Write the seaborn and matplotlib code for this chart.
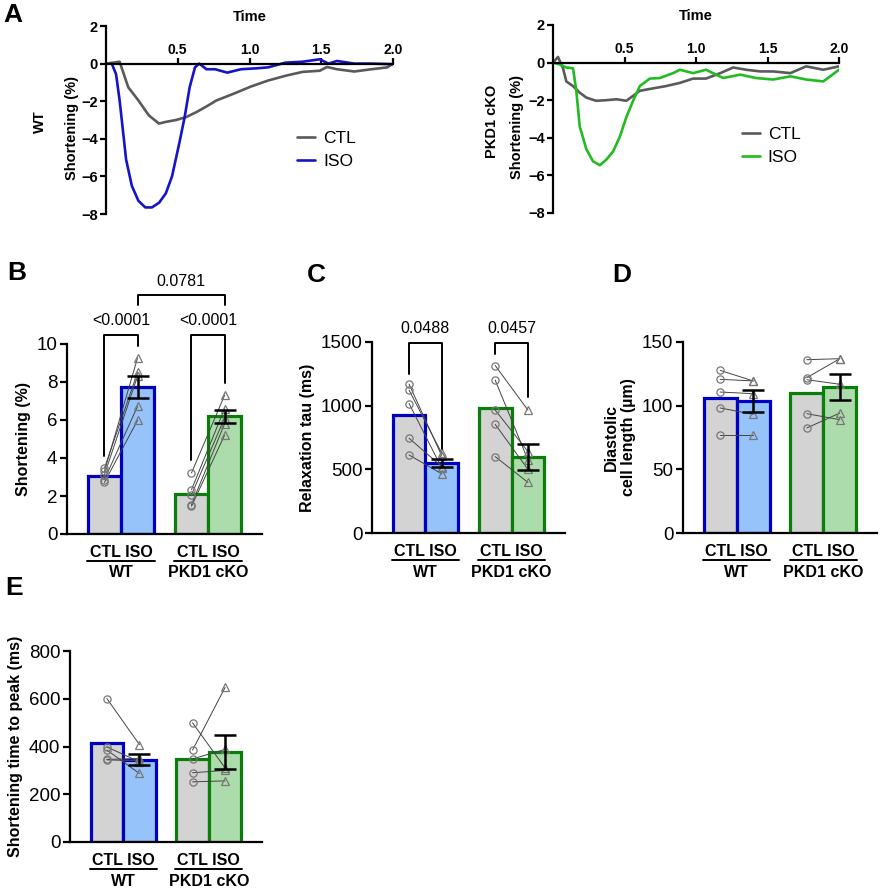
import numpy as np
import pandas as pd
import matplotlib
matplotlib.use("Agg")
import matplotlib.pyplot as plt
import seaborn as sns

# ----------------------
# DATA
# ----------------------
# Panel A - WT traces
wt_ctl_t = [0, 0.05, 0.095, 0.155, 0.226, 0.298, 0.369, 0.417, 0.488, 0.56, 0.63,
            0.70, 0.77, 0.89, 1.01, 1.13, 1.25, 1.37, 1.49, 1.54, 1.61, 1.73, 1.85, 1.96, 2.0]
wt_ctl_y = [0, 0.05, 0.1, -1.26, -1.96, -2.75, -3.19, -3.1, -3.0, -2.84, -2.58,
            -2.28, -1.96, -1.6, -1.22, -0.9, -0.65, -0.44, -0.38, -0.18, -0.3, -0.42, -0.3, -0.2, 0.0]
wt_iso_t = [0.04, 0.07, 0.095, 0.12, 0.14, 0.18, 0.226, 0.274, 0.32, 0.37, 0.417, 0.46,
            0.51, 0.548, 0.583, 0.62, 0.65, 0.70, 0.76, 0.845, 0.94, 1.05, 1.13, 1.25, 1.37,
            1.49, 1.55, 1.61, 1.73, 1.85, 2.0]
wt_iso_y = [0, -0.56, -1.96, -3.7, -5.1, -6.5, -7.3, -7.65, -7.65, -7.4, -6.9, -6.0,
            -4.26, -2.85, -1.26, -0.2, 0.0, -0.3, -0.3, -0.48, -0.3, -0.25, -0.2, 0.05, 0.1,
            0.23, 0.0, 0.14, 0.0, 0.0, -0.03]

# Panel A - PKD1 cKO traces
ko_ctl_t = [0, 0.035, 0.07, 0.093, 0.14, 0.187, 0.233, 0.30, 0.373, 0.443, 0.513, 0.56,
            0.607, 0.70, 0.79, 0.887, 0.98, 1.07, 1.17, 1.26, 1.35, 1.45, 1.54, 1.66, 1.77, 1.89, 2.0]
ko_ctl_y = [0, 0.3, -0.3, -1.0, -1.25, -1.6, -1.86, -2.03, -2.0, -1.95, -2.03, -1.77,
            -1.5, -1.37, -1.25, -1.08, -0.85, -0.85, -0.56, -0.26, -0.38, -0.47, -0.47, -0.56, -0.2, -0.38, -0.2]
ko_iso_t = [0, 0.047, 0.093, 0.14, 0.163, 0.187, 0.233, 0.28, 0.327, 0.373, 0.42, 0.467,
            0.513, 0.56, 0.607, 0.677, 0.747, 0.84, 0.887, 0.98, 1.07, 1.19, 1.31, 1.42, 1.54,
            1.66, 1.77, 1.89, 2.0]
ko_iso_y = [0, -0.1, -0.26, -0.3, -1.5, -3.4, -4.6, -5.25, -5.46, -5.16, -4.73, -3.95,
            -2.9, -2.03, -1.25, -0.85, -0.82, -0.56, -0.38, -0.56, -0.38, -0.82, -0.64, -0.82, -0.9,
            -0.73, -0.9, -1.0, -0.38]

genotypes = ["WT", "PKD1 cKO"]
treatments = ["CTL", "ISO"]

# Panel B - shortening (%)
b_mean = [3.07, 7.74, 2.10, 6.19]          # WT CTL, WT ISO, KO CTL, KO ISO
b_sem_iso = [0.60, 0.35]
b_wt_ctl = [3.30, 3.47, 3.12, 2.86, 2.72]
b_wt_iso = [9.26, 8.50, 8.30, 6.72, 5.98]
b_ko_ctl = [3.21, 2.33, 2.07, 1.54, 1.46]
b_ko_iso = [7.30, 6.60, 6.10, 5.80, 5.20]

# Panel C - relaxation tau (ms)
c_mean = [926, 548, 978, 595]
c_sem_iso = [33, 103]
c_wt_ctl = [1169, 1122, 1017, 744, 613]
c_wt_iso = [605, 626, 509, 522, 464]
c_ko_ctl = [1315, 1200, 965, 853, 600]
c_ko_iso = [965, 574, 640, 500, 397]

# Panel D - diastolic cell length (um)
d_mean = [106.3, 103.7, 110.0, 114.7]
d_sem_iso = [8.5, 10.3]
d_wt_ctl = [127.7, 120.7, 110.7, 98.2, 76.7]
d_wt_iso = [119.4, 119.4, 109.4, 93.2, 76.7]
d_ko_ctl = [136.1, 122.0, 120.4, 93.7, 82.5]
d_ko_iso = [136.9, 136.9, 116.8, 89.0, 94.2]

# Panel E - time to peak (ms)
e_mean = [412.6, 345.5, 349.7, 377.6]
e_sem_iso = [22.5, 70]
e_wt_ctl = [601, 398, 385, 346, 344]
e_wt_iso = [408, 336, 287, 350, 340]
e_ko_ctl = [499, 385, 348, 290, 252]
e_ko_iso = [310, 648, 388, 300, 256]

# ----------------------
# STYLE
# ----------------------
sns.set_style("ticks", {"axes.edgecolor": "black", "xtick.color": "black",
                        "ytick.color": "black", "text.color": "black",
                        "axes.labelcolor": "black"})
plt.rcParams['font.family'] = ['Liberation Sans', 'DejaVu Sans']

GREY_TRACE = "#5a5a5a"
BLUE_TRACE = "#1414c8"
GREEN_TRACE = "#22bb22"
BLUE_EDGE = "#0000c0"
GREEN_EDGE = "#0b7d0b"
FILL = {("WT", "CTL"): "#d3d3d3", ("WT", "ISO"): "#96c3fa",
        ("PKD1 cKO", "CTL"): "#d3d3d3", ("PKD1 cKO", "ISO"): "#acdcac"}
EDGE = {"WT": BLUE_EDGE, "PKD1 cKO": GREEN_EDGE}

W, H = 881, 891
fig = plt.figure(figsize=(W / 100, H / 100), dpi=100)


def px_axes(x0, x1, ytop, ybot):
    return fig.add_axes([x0 / W, 1 - ybot / H, (x1 - x0) / W, (ybot - ytop) / H])


# ----------------------
# PANEL A - traces
# ----------------------
def trace_panel(ax, ctl_t, ctl_y, iso_t, iso_y, iso_color, row_label, leg_xy, lab_x):
    df = pd.concat([
        pd.DataFrame({"t": ctl_t, "y": ctl_y, "cond": "CTL"}),
        pd.DataFrame({"t": iso_t, "y": iso_y, "cond": "ISO"}),
    ])
    sns.lineplot(data=df, x="t", y="y", hue="cond", estimator=None, sort=False,
                 palette={"CTL": GREY_TRACE, "ISO": iso_color}, linewidth=1.9, ax=ax)
    ax.set_xlim(0, 2.0)
    ax.set_ylim(-8, 2)
    ax.set_yticks([-8, -6, -4, -2, 0, 2])
    ax.set_xticks([0.5, 1.0, 1.5, 2.0])
    ax.set_xticklabels(["0.5", "1.0", "1.5", "2.0"])
    ax.spines['right'].set_visible(False)
    ax.spines['bottom'].set_visible(False)
    ax.spines['top'].set_position(('data', 0))
    ax.spines['top'].set_linewidth(1.6)
    ax.spines['left'].set_linewidth(1.6)
    ax.xaxis.tick_top()
    ax.tick_params(axis='x', direction='out', length=4, width=1.6, pad=1, labelsize=10)
    ax.tick_params(axis='y', direction='out', length=4, width=1.6, pad=2, labelsize=10.5)
    for lab in ax.get_xticklabels() + ax.get_yticklabels():
        lab.set_fontweight('bold')
    ax.set_xlabel("")
    ax.set_ylabel("")
    ax.text(0.5, 1.05, "Time", transform=ax.transAxes, ha='center', va='center',
            fontsize=10.5, fontweight='bold')
    ax.text(lab_x[0], 0.49, row_label, transform=ax.transAxes, rotation=90,
            ha='center', va='center', fontsize=10.5, fontweight='bold')
    ax.text(lab_x[1], 0.46, "Shortening (%)", transform=ax.transAxes, rotation=90,
            ha='center', va='center', fontsize=10.5, fontweight='bold')
    ax.legend(loc='center left', bbox_to_anchor=leg_xy, frameon=False, fontsize=12.5,
              handlelength=1.05, handletextpad=0.45, labelspacing=0.45, borderpad=0,
              borderaxespad=0)


ax_a1 = px_axes(106, 393, 26, 214)
trace_panel(ax_a1, wt_ctl_t, wt_ctl_y, wt_iso_t, wt_iso_y, BLUE_TRACE, "WT",
            (0.665, 0.34), (-0.23, -0.118))
ax_a2 = px_axes(553, 839, 25, 213)
trace_panel(ax_a2, ko_ctl_t, ko_ctl_y, ko_iso_t, ko_iso_y, GREEN_TRACE, "PKD1 cKO",
            (0.66, 0.355), (-0.213, -0.126))


# ----------------------
# BAR PANELS
# ----------------------
def bar_panel(ax, means, sems, pts, ylim, yticks, ylabel):
    df = pd.DataFrame({
        "genotype": [genotypes[0]] * 2 + [genotypes[1]] * 2,
        "treatment": treatments * 2,
        "value": means,
    })
    sns.barplot(data=df, x="genotype", y="value", hue="treatment", order=genotypes,
                hue_order=treatments, width=0.76, errorbar=None, legend=False, ax=ax)
    for p in ax.patches:
        cx = p.get_x() + p.get_width() / 2
        g = int(round(cx))
        tr = "CTL" if cx < g else "ISO"
        p.set_facecolor(FILL[(genotypes[g], tr)])
        p.set_edgecolor(EDGE[genotypes[g]])
        p.set_linewidth(2.3)

    half = 0.19
    for g, (ctl, iso) in enumerate(pts):
        for a, b in zip(ctl, iso):
            ax.plot([g - half, g + half], [a, b], color="#444444", lw=0.7, zorder=3)
        ax.plot([g - half] * len(ctl), ctl, ls='none', marker='o', ms=5.2, mfc='none',
                mec="#777777", mew=0.9, zorder=4)
        ax.plot([g + half] * len(iso), iso, ls='none', marker='^', ms=5.5, mfc='none',
                mec="#777777", mew=0.9, zorder=4)
        ax.errorbar(g + half, means[2 * g + 1], yerr=sems[g], color='black', lw=1.8,
                    capsize=8, capthick=1.8, zorder=5)

    ax.set_xlim(-0.62, 1.62)
    ax.set_ylim(*ylim)
    ax.set_yticks(yticks)
    ax.set_xticks([])
    ax.set_xlabel("")
    ax.set_ylabel(ylabel, fontsize=11.5, fontweight='bold', labelpad=4)
    sns.despine(ax=ax)
    for s in ("left", "bottom"):
        ax.spines[s].set_linewidth(1.6)
    ax.tick_params(axis='y', direction='out', length=5, width=1.6, labelsize=13.5, pad=2)

    tr = ax.get_xaxis_transform()
    for g, name in enumerate(genotypes):
        ax.text(g, -0.098, "CTL ISO", transform=tr, ha='center', va='center',
                fontsize=11.5, fontweight='bold')
        ax.plot([g - 0.39, g + 0.39], [-0.142, -0.142], transform=tr, color='black',
                lw=1.4, clip_on=False)
        ax.text(g, -0.205, name, transform=tr, ha='center', va='center',
                fontsize=11.5, fontweight='bold')


def bracket(ax, x1, x2, ytop, yl, yr, text, ytext):
    ax.plot([x1, x1, x2, x2], [yl, ytop, ytop, yr], color='black', lw=1.4,
            clip_on=False, zorder=6)
    ax.text((x1 + x2) / 2, ytext, text, ha='center', va='center', fontsize=11.5)


ax_b = px_axes(67, 262, 344, 534)
bar_panel(ax_b, b_mean, b_sem_iso, [(b_wt_ctl, b_wt_iso), (b_ko_ctl, b_ko_iso)],
          (0, 10), [0, 2, 4, 6, 8, 10], "Shortening (%)")
bracket(ax_b, -0.19, 0.19, 10.47, 4.09, 9.88, "<0.0001", 11.25)
bracket(ax_b, 0.81, 1.19, 10.47, 3.9, 7.95, "<0.0001", 11.25)
bracket(ax_b, 0.19, 1.19, 12.6, 12.07, 12.07, "0.0781", 13.3)

ax_c = px_axes(372, 565, 342, 533)
bar_panel(ax_c, c_mean, c_sem_iso, [(c_wt_ctl, c_wt_iso), (c_ko_ctl, c_ko_iso)],
          (0, 1500), [0, 500, 1000, 1500], "Relaxation tau (ms)")
bracket(ax_c, -0.19, 0.19, 1492, 1252, 657, "0.0488", 1605)
bracket(ax_c, 0.81, 1.19, 1492, 1404, 1070, "0.0457", 1605)

ax_d = px_axes(683, 877, 342, 533)
bar_panel(ax_d, d_mean, d_sem_iso, [(d_wt_ctl, d_wt_iso), (d_ko_ctl, d_ko_iso)],
          (0, 150), [0, 50, 100, 150], "Diastolic\ncell length (µm)")

ax_e = px_axes(70, 262, 651, 842)
bar_panel(ax_e, e_mean, e_sem_iso, [(e_wt_ctl, e_wt_iso), (e_ko_ctl, e_ko_iso)],
          (0, 800), [0, 200, 400, 600, 800], "Shortening time to peak (ms)")

# ----------------------
# PANEL LETTERS
# ----------------------
for letter, x, y in [("A", 3, 3), ("B", 7, 261), ("C", 307, 263), ("D", 612, 263), ("E", 5, 576)]:
    fig.text(x / W, 1 - y / H, letter, ha='left', va='top', fontsize=19, fontweight='bold')

fig.savefig("out.png", dpi=100)
